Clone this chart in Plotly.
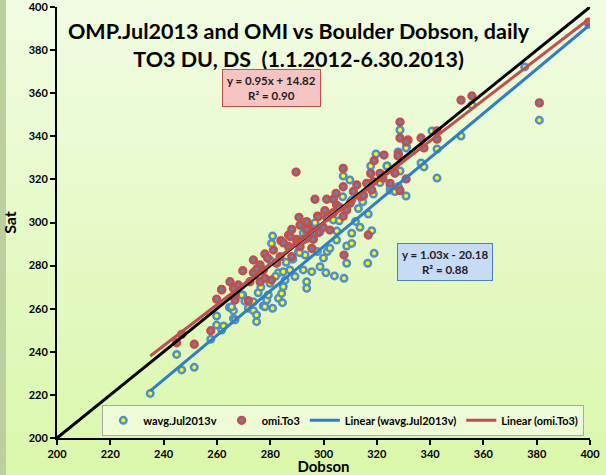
import plotly.graph_objects as go

# Dobson vs satellite total ozone (DU)
dobson_wavg = [235.0, 244.9, 246.8, 251.5, 257.7, 259.9, 259.9, 261.8, 264.7, 266.2, 266.2, 269.7,
               271.8, 264.9, 266.8, 265.5, 269.3, 273.7, 273.7, 274.9, 274.9, 275.5, 277.4, 278.0,
               278.7, 279.3, 279.9, 279.9, 280.5, 280.9, 280.9, 283.1, 283.1, 284.3, 284.6, 284.9,
               284.9, 285.6, 287.4, 289.3, 290.6, 292.4, 292.4, 293.1, 293.7, 293.7, 295.6, 296.8,
               297.7, 298.7, 300.9, 301.4, 304.1, 307.7, 308.7, 316.6, 319.0, 293.7, 296.8, 298.7,
               302.4, 303.7, 304.9, 305.9, 307.2, 307.4, 308.7, 309.9, 310.6, 310.6, 310.6, 313.1,
               313.7, 314.7, 316.8, 317.7, 318.1, 318.7, 319.7, 321.2, 323.9, 325.0, 326.8, 326.8,
               328.1, 331.0, 331.2, 323.8, 328.7, 331.0, 328.0, 328.7, 342.6, 340.7, 342.6, 351.6,
               336.6, 337.7, 325.0, 328.0, 355.7, 375.5, 381.0, 399.5,
               286.0, 288.5, 291.0, 282.0, 276.5, 270.5, 262.5, 300.0, 305.0, 312.0]
sat_wavg = [220.7, 238.8, 231.6, 232.8, 245.8, 256.6, 252.4, 250.1, 260.6, 259.1, 255.5, 266.4,
            260.2, 260.6, 254.8, 260.9, 266.4, 263.2, 259.1, 257.1, 254.0, 267.4, 261.3, 260.9,
            264.0, 266.4, 271.8, 282.6, 290.3, 293.7, 260.2, 264.8, 276.7, 267.1, 262.8, 270.2,
            277.2, 273.3, 278.0, 274.9, 286.5, 295.0, 278.0, 284.9, 272.5, 269.5, 277.2, 299.3,
            286.5, 279.5, 276.7, 286.5, 275.2, 274.1, 281.1, 281.1, 285.7, 295.0, 299.9, 295.7,
            288.0, 301.2, 291.9, 300.8, 312.0, 321.6, 289.1, 319.7, 310.4, 290.3, 295.0, 306.5,
            297.8, 309.6, 303.9, 326.2, 296.2, 313.2, 331.8, 318.5, 326.2, 315.1, 322.8, 314.4,
            316.6, 312.3, 335.2, 326.2, 342.9, 334.6, 332.7, 323.9, 320.6, 342.5, 334.1, 340.1,
            327.6, 325.8, 316.9, 316.5, 354.5, 372.2, 347.5, 392.0,
            281.5, 283.0, 286.0, 275.0, 270.0, 263.5, 252.0, 283.5, 296.0, 300.5]

dobson_omi = [244.9, 246.8, 251.5, 257.7, 259.9, 261.8, 266.8, 266.8, 271.8, 261.8, 264.9, 266.2,
              269.7, 272.4, 273.7, 273.7, 276.2, 276.2, 277.4, 278.0, 278.0, 280.5, 281.2, 282.4,
              283.7, 284.0, 286.9, 286.9, 288.1, 288.1, 289.9, 290.8, 291.2, 291.2, 293.9, 293.9,
              294.9, 297.8, 298.0, 289.7, 292.4, 293.7, 293.7, 295.6, 296.2, 296.2, 296.8, 298.0,
              299.9, 301.2, 301.2, 302.4, 303.7, 303.7, 304.7, 304.9, 307.4, 307.4, 307.4, 307.7,
              308.7, 311.2, 312.5, 314.0, 316.2, 316.8, 317.7, 318.1, 318.7, 319.0, 321.2, 322.7,
              325.0, 328.1, 328.7, 331.7, 328.7, 328.7, 331.0, 328.0, 326.8, 331.0, 342.6, 342.6,
              336.6, 337.7, 322.3, 351.6, 355.7, 381.0, 399.5,
              285.0, 287.5, 290.0, 279.0, 275.0, 268.0, 300.5, 306.0, 310.0, 315.0]
sat_omi = [244.2, 248.1, 243.5, 249.8, 264.4, 268.7, 264.0, 266.4, 263.7, 269.0, 272.5, 269.5,
           277.6, 272.5, 276.7, 282.6, 272.5, 280.3, 278.0, 274.1, 285.4, 273.3, 287.2, 281.1,
           284.1, 291.6, 294.2, 288.8, 296.8, 284.1, 292.2, 302.4, 298.8, 288.8, 299.3, 292.7,
           296.5, 303.0, 295.3, 323.4, 291.9, 300.4, 296.8, 288.0, 295.0, 292.2, 310.8, 302.7,
           297.8, 310.8, 302.4, 296.5, 310.8, 304.6, 313.5, 308.1, 325.1, 316.6, 302.9, 284.9,
           305.8, 314.4, 317.4, 312.0, 318.2, 294.2, 322.8, 315.1, 319.0, 328.7, 322.8, 331.3,
           318.2, 331.8, 314.8, 338.3, 346.6, 339.2, 337.4, 330.9, 323.0, 320.2, 342.5, 338.7,
           339.2, 334.6, 320.6, 356.8, 358.7, 355.5, 393.0,
           290.5, 293.5, 290.5, 283.5, 278.5, 271.0, 305.5, 307.0, 309.0, 312.5]

# Excel trendline coefficients shown in the chart
fit_wavg = (1.03, -20.18, 0.88)
fit_omi = (0.95, 14.82, 0.90)
axis_range = [200, 400]

FONT = "Lato"
BLUE = "#2f7fc8"
RED = "#c0504d"

x_lo = min(dobson_wavg + dobson_omi)
x_hi = max(dobson_wavg + dobson_omi)
trend_x = [x_lo, x_hi]

fig = go.Figure()

fig.add_trace(go.Scatter(
    x=dobson_wavg, y=sat_wavg, mode="markers", name="wavg.Jul2013v",
    marker=dict(size=6.5, color="#ffff00", line=dict(color="#4f8fcf", width=2.5)),
))
fig.add_trace(go.Scatter(
    x=dobson_omi, y=sat_omi, mode="markers", name="omi.To3",
    marker=dict(size=6.5, color="#6c80a8", line=dict(color=RED, width=2.8)),
))
fig.add_trace(go.Scatter(
    x=axis_range, y=axis_range, mode="lines", showlegend=False,
    line=dict(color="black", width=3), hoverinfo="skip",
))
fig.add_trace(go.Scatter(
    x=trend_x, y=[fit_wavg[0] * v + fit_wavg[1] for v in trend_x], mode="lines",
    name="Linear (wavg.Jul2013v)", line=dict(color=BLUE, width=3),
))
fig.add_trace(go.Scatter(
    x=trend_x, y=[fit_omi[0] * v + fit_omi[1] for v in trend_x], mode="lines",
    name="Linear (omi.To3)", line=dict(color=RED, width=3),
))

# soft vertical gradient behind everything
shapes = []
n = 30
top = (241, 252, 226)
bot = (218, 247, 172)
y0p, y1p = -37 / 431, 438 / 431
for i in range(n):
    t = i / (n - 1)
    c = tuple(int(round(top[k] + (bot[k] - top[k]) * t)) for k in range(3))
    ya = y1p - (y1p - y0p) * i / n
    yb = y1p - (y1p - y0p) * (i + 1) / n
    shapes.append(dict(type="rect", xref="paper", yref="paper", x0=-57 / 533, x1=549 / 533,
                       y0=yb, y1=ya, fillcolor="rgb(%d,%d,%d)" % c, line_width=0, layer="below"))
shapes.append(dict(type="rect", xref="paper", yref="paper", x0=-57 / 533, x1=-51 / 533,
                   y0=y0p, y1=y1p, fillcolor="#bccf9f", line_width=0, layer="below"))

axis_common = dict(
    range=axis_range, dtick=20, showgrid=False, zeroline=False, automargin=False,
    showline=True, linecolor="black", linewidth=2,
    ticks="outside", ticklen=5, tickwidth=2, tickcolor="black",
    tickfont=dict(family=FONT, size=11, weight="bold"),
    ticklabeloverflow="allow",
)

fig.update_layout(
    width=606, height=475,
    margin=dict(l=57, r=16, t=7, b=37, autoexpand=False),
    paper_bgcolor="#e8fac9", plot_bgcolor="rgba(0,0,0,0)",
    font=dict(family=FONT, color="black"),
    shapes=shapes,
    showlegend=True,
    legend=dict(
        orientation="h", x=0.085, y=0.077, xanchor="left", yanchor="top",
        bgcolor="#edfbd6", bordercolor="#a8a8a8", borderwidth=1,
        font=dict(family=FONT, size=11, color="black", weight="bold"),
        itemwidth=30, tracegroupgap=0,
    ),
    xaxis=dict(axis_common,
               title=dict(text="Dobson", font=dict(family=FONT, size=15, weight="bold"), standoff=6)),
    yaxis=dict(axis_common,
               title=dict(text="Sat", font=dict(family=FONT, size=16, weight="bold"), standoff=8)),
    annotations=[
        dict(text="OMP.Jul2013 and OMI vs Boulder Dobson, daily<br>TO3 DU, DS  (1.1.2012-6.30.2013)",
             xref="paper", yref="paper", x=0.454, y=0.912, xanchor="center", yanchor="middle",
             showarrow=False,
             font=dict(family=FONT, size=21.5, weight="bold", color="black")),
        dict(text="y = %.2fx + %.2f<br>R² = %.2f" % fit_omi,
             x=280.5, y=362.5, showarrow=False, align="center",
             bgcolor="#f7c4c4", bordercolor=RED, borderwidth=1, borderpad=4,
             font=dict(family=FONT, size=11.5, weight="bold", color="#222")),
        dict(text="y = %.2fx - %.2f<br>R² = %.2f" % (fit_wavg[0], -fit_wavg[1], fit_wavg[2]),
             x=345.5, y=281.5, showarrow=False, align="center",
             bgcolor="#c7daf6", bordercolor="#4f81bd", borderwidth=1, borderpad=4,
             font=dict(family=FONT, size=11.5, weight="bold", color="#222")),
    ],
)

fig.write_html("out.html", config={"displayModeBar": False},
               post_script="document.body.style.margin='0';")
